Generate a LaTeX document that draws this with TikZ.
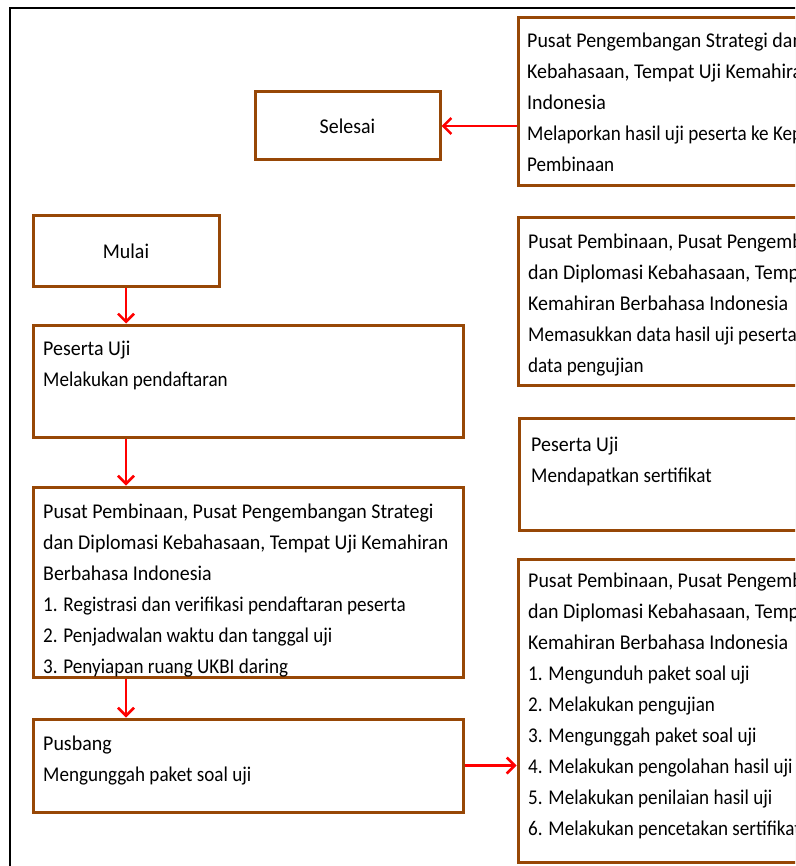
\documentclass[tikz,border=0pt]{standalone}
\usepackage{fontspec}
\setmainfont{Carlito}
\newfontfamily\hdfont[FakeStretch=0.95]{Carlito}
\newfontfamily\condfont[FakeStretch=0.91]{Carlito}
\usetikzlibrary{arrows.meta,shadows}
\definecolor{boxbrown}{HTML}{974706}
\definecolor{arrowred}{HTML}{FF0000}
\newcommand{\hl}[1]{{\hdfont\strut #1}}
\begin{document}
\begin{tikzpicture}[x=1pt,y=-1pt,
  box/.style={draw=boxbrown, line width=3pt, fill=white, inner sep=0pt,
    drop shadow={shadow xshift=1.5pt, shadow yshift=-1.5pt, fill=black!30, opacity=0.6}},
  txt/.style={anchor=north west, inner sep=0pt, align=left,
    font=\condfont\fontsize{21}{31}\selectfont},
  lbl/.style={inner sep=0pt, font=\hdfont\fontsize{21}{31}\selectfont},
  flow/.style={draw=arrowred, line width=2.5pt, -{Straight Barb[length=8pt,width=16pt]}}]
\useasboundingbox (0,0) rectangle (795,866);
\clip (0,0) rectangle (795,866);
\fill[white] (0,0) rectangle (795,866);
\draw[line width=2.5pt, black] (10,900) -- (10,8) -- (900,8);

% boxes
\node[box, minimum width=382pt, minimum height=168pt] (tr) at (709,102) {};
\node[box, minimum width=185pt, minimum height=68pt] (selesai) at (347.5,126) {};
\node[box, minimum width=186pt, minimum height=70pt] (mulai) at (126,251) {};
\node[box, minimum width=430pt, minimum height=112pt] (peserta) at (248,381) {};
\node[box, minimum width=430pt, minimum height=190pt] (pusat) at (248,582) {};
\node[box, minimum width=430pt, minimum height=93pt] (pusbang) at (248,765.5) {};
\node[box, minimum width=382pt, minimum height=167pt] (r2) at (709,301.5) {};
\node[box, minimum width=381pt, minimum height=112pt] (r3) at (709.5,474) {};
\node[box, minimum width=382pt, minimum height=303pt] (r4) at (709,710.5) {};

% texts
\node[lbl] (selesai-t) at (selesai.center) {Selesai};
\node[lbl] (mulai-t) at (mulai.center) {Mulai};
\node[txt] (tr-t) at (527,25.3) {\hl{Pusat Pengembangan Strategi dan}\\
  \hl{Kebahasaan, Tempat Uji Kemahiran}\\
  \hl{Indonesia}\\
  \strut Melaporkan hasil uji peserta ke Kepala\\
  \strut Pembinaan};
\node[txt] (peserta-t) at (43,333.3) {\hl{Peserta Uji}\\
  \strut Melakukan pendaftaran};
\node[txt] (pusat-t) at (43,496.3) {\hl{Pusat Pembinaan, Pusat Pengembangan Strategi}\\
  \hl{dan Diplomasi Kebahasaan, Tempat Uji Kemahiran}\\
  \hl{Berbahasa Indonesia}\\
  \strut 1. Registrasi dan verifikasi pendaftaran peserta\\
  \strut 2. Penjadwalan waktu dan tanggal uji\\
  \strut 3. Penyiapan ruang UKBI daring};
\node[txt] (pusbang-t) at (43,728.3) {\hl{Pusbang}\\
  \strut Mengunggah paket soal uji};
\node[txt] (r2-t) at (528,226.3) {\hl{Pusat Pembinaan, Pusat Pengembangan}\\
  \hl{dan Diplomasi Kebahasaan, Tempat}\\
  \hl{Kemahiran Berbahasa Indonesia}\\
  \strut Memasukkan data hasil uji peserta\\
  \strut data pengujian};
\node[txt] (r3-t) at (531,429.3) {\hl{Peserta Uji}\\
  \strut Mendapatkan sertifikat};
\node[txt] (r4-t) at (528,565.3) {\hl{Pusat Pembinaan, Pusat Pengembangan}\\
  \hl{dan Diplomasi Kebahasaan, Tempat}\\
  \hl{Kemahiran Berbahasa Indonesia}\\
  \strut 1. Mengunduh paket soal uji\\
  \strut 2. Melakukan pengujian\\
  \strut 3. Mengunggah paket soal uji\\
  \strut 4. Melakukan pengolahan hasil uji\\
  \strut 5. Melakukan penilaian hasil uji\\
  \strut 6. Melakukan pencetakan sertifikat};

% connectors
\draw[flow] (tr.west |- selesai.east) -- (selesai.east);
\draw[flow] (mulai.south) -- (mulai.south |- peserta.north);
\draw[flow] (peserta.south -| mulai.south) -- (pusat.north -| mulai.south);
\draw[flow] (pusat.south -| mulai.south) -- (pusbang.north -| mulai.south);
\draw[flow] (pusbang.east) -- (pusbang.east -| r4.west);
\end{tikzpicture}
\end{document}
